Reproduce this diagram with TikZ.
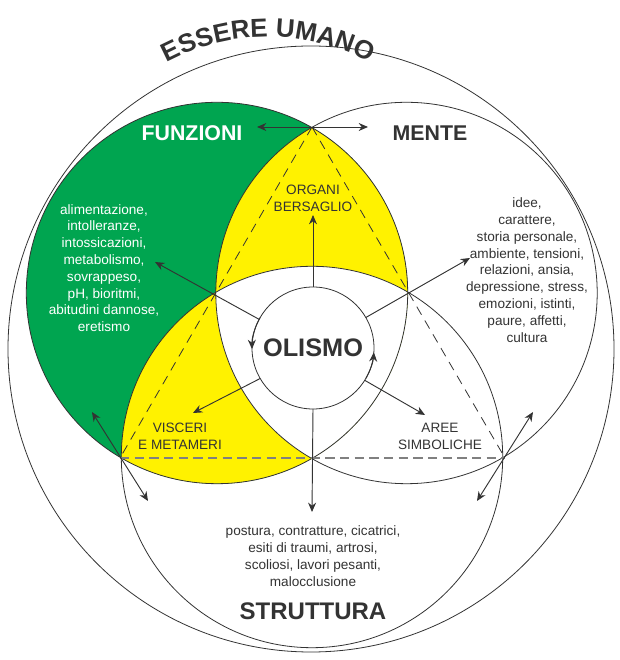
\documentclass[tikz,border=0pt]{standalone}
\usepackage{fontspec}
\setmainfont{Liberation Sans}
\usetikzlibrary{arrows.meta,calc,decorations.text}
\definecolor{vgreen}{HTML}{00A550}
\definecolor{vyellow}{HTML}{FFF200}
\definecolor{ink}{HTML}{333333}
\begin{document}
\begin{tikzpicture}[x=0.75pt,y=0.75pt,
  ln/.style={draw=ink,line width=0.6pt},
  arr/.style={draw=ink,line width=0.7pt,-{Stealth[length=7pt,width=6pt]}},
  darr/.style={draw=ink,line width=0.7pt,{Stealth[length=7pt,width=6pt]}-{Stealth[length=7pt,width=6pt]}},
  body/.style={align=center,font=\fontsize{10.2}{12.6}\selectfont,text=ink},
  head/.style={font=\bfseries\fontsize{16}{18}\selectfont}]
\useasboundingbox (0,0) rectangle (620,660);
\coordinate (F) at (217,367);
\coordinate (M) at (406.5,367);
\coordinate (S) at (312,203);
\coordinate (O) at (313,312);
\coordinate (T) at (312,533);
\coordinate (L) at (120,202);
\coordinate (R) at (505,202);
\def\rr{190.7}
% fills
\fill[vgreen] (F) circle (\rr);
\begin{scope}
  \clip (F) circle (\rr);
  \fill[vyellow] (M) circle (\rr);
  \fill[vyellow] (S) circle (\rr);
  \clip (M) circle (\rr);
  \fill[white] (S) circle (\rr);
\end{scope}
% circles
\draw[ln] (311,311) circle (303);
\draw[ln] (F) circle (\rr);
\draw[ln] (M) circle (\rr);
\draw[ln] (S) circle (\rr);
% dashed triangle
\draw[ink,line width=0.6pt,dash pattern=on 7pt off 5pt] (T) -- (L);
\draw[ink,line width=0.6pt,dash pattern=on 7pt off 5pt] (T) -- (R);
\draw[gray,line width=1.1pt,dash pattern=on 7pt off 4pt] (L) -- (R);
% inner circle
\fill[white] (O) circle (61);
\draw[ln] (O) circle (61);
\draw[arr] ($(O)+(150:61)$) arc (150:181:61);
\draw[arr] ($(O)+(-30:61)$) arc (-30:-4:61);
% radial arrows
\coordinate (a1) at (313,445);
\coordinate (a2) at (155,398);
\coordinate (a3) at (470,402);
\coordinate (a4) at (193,247);
\coordinate (a5) at (425,245);
\coordinate (a6) at (312,148);
\draw[arr] ($(O)+(90:61)$) -- (a1);
\draw[arr] ($(O)+(152:61)$) -- (a2);
\draw[arr] ($(O)+(30:61)$) -- (a3);
\draw[arr] ($(O)+(210:61)$) -- (a4);
\draw[arr] ($(O)+(328:61)$) -- (a5);
\draw[arr] ($(O)+(270:61)$) -- (a6);
% tangent arrows
\coordinate (t1) at (257,533); \coordinate (t2) at (368,533);
\coordinate (l1) at (92,248); \coordinate (l2) at (148,159);
\coordinate (r1) at (533,248); \coordinate (r2) at (477,159);
\draw[darr] (t1) -- (t2);
\draw[darr] (l1) -- (l2);
\draw[darr] (r1) -- (r2);
% title
\path[decorate,decoration={text along path,text align=center,
  text={|\bfseries\fontsize{19.5}{22}\selectfont\color{ink}|ESSERE UMANO}}]
  (268,408) ++(150:215) arc (150:30:215);
% texts
\node[head,text=white] (fz) at (192,527) {FUNZIONI};
\node[head,text=ink] (mt) at (430,527) {MENTE};
\node[font=\bfseries\fontsize{19}{21}\selectfont,text=ink] (ol) at (313,312) {OLISMO};
\node[font=\bfseries\fontsize{18}{20}\selectfont,text=ink] (st) at (313,49) {STRUTTURA};
\node[body] (ob) at (313,462) {ORGANI\\BERSAGLIO};
\node[body] (vm) at (180,224) {VISCERI\\E METAMERI};
\node[body] (as) at (440,224) {AREE\\SIMBOLICHE};
\node[body,text=white] (lf) at (104,392) {alimentazione,\\intolleranze,\\intossicazioni,\\metabolismo,\\sovrappeso,\\pH, bioritmi,\\abitudini dannose,\\eretismo};
\node[body] (rt) at (527,390) {idee,\\carattere,\\storia personale,\\ambiente, tensioni,\\relazioni, ansia,\\depressione, stress,\\emozioni, istinti,\\paure, affetti,\\cultura};
\node[body] (bt) at (313,104) {postura, contratture, cicatrici,\\esiti di traumi, artrosi,\\scoliosi, lavori pesanti,\\malocclusione};
\end{tikzpicture}
\end{document}
